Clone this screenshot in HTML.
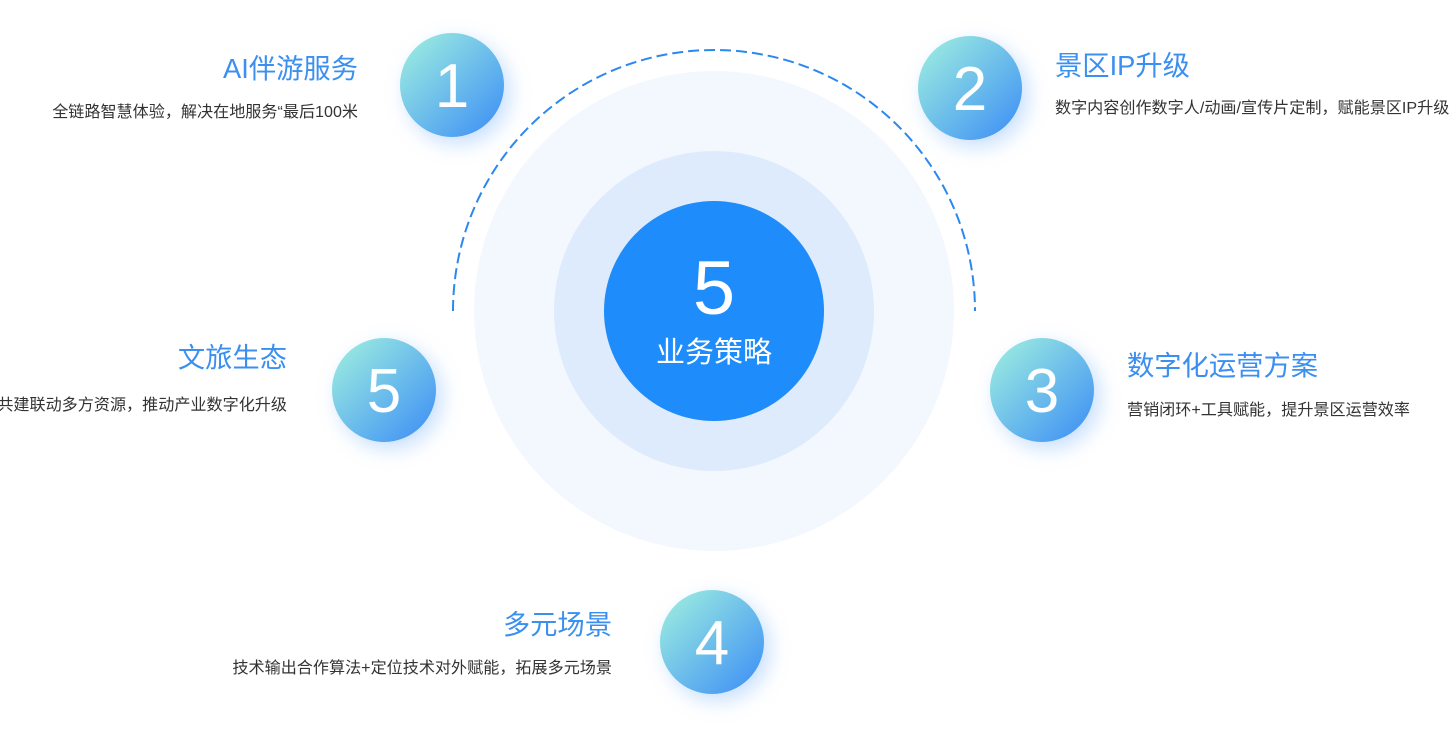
<!DOCTYPE html>
<html><head><meta charset="utf-8"><style>
html,body{margin:0;padding:0;background:#fff;width:1454px;height:751px;overflow:hidden}
svg text{font-family:"Liberation Sans","Noto Sans CJK SC",sans-serif}
.t{fill:#3a8ff0;font-size:27.3px}
.d{fill:#333;font-size:16.1px}
.n{fill:#fff;font-size:62px;font-weight:300}
</style></head><body>
<svg width="1454" height="751" viewBox="0 0 1454 751">
<defs>
<linearGradient id="g" x1="0" y1="0" x2="1" y2="1">
<stop offset="0" stop-color="#a2f2df"/><stop offset="1" stop-color="#3a8cf6"/>
</linearGradient>
<filter id="sh" x="-50%" y="-50%" width="200%" height="200%"><feGaussianBlur stdDeviation="10"/></filter>
</defs>
<circle cx="714" cy="311" r="240" fill="#f3f7fe"/>
<circle cx="714" cy="311" r="160" fill="#deebfc"/>
<circle cx="714" cy="311" r="110" fill="#1e8cfa"/>
<path d="M453 311 A261 261 0 0 1 975 311" fill="none" stroke="#2b88f0" stroke-width="2" stroke-dasharray="11 5"/>
<text x="714" y="314" text-anchor="middle" fill="#fff" font-size="76" font-weight="300">5</text>
<text x="714" y="362" text-anchor="middle" fill="#fff" font-size="29">业务策略</text>
<g>
<circle cx="458" cy="92" r="52" fill="#8fc0fb" opacity=".5" filter="url(#sh)"/>
<circle cx="452" cy="85" r="52" fill="url(#g)"/>
<text class="n" x="452" y="107" text-anchor="middle">1</text>
<circle cx="976" cy="95" r="52" fill="#8fc0fb" opacity=".5" filter="url(#sh)"/>
<circle cx="970" cy="88" r="52" fill="url(#g)"/>
<text class="n" x="970" y="110" text-anchor="middle">2</text>
<circle cx="390" cy="397" r="52" fill="#8fc0fb" opacity=".5" filter="url(#sh)"/>
<circle cx="384" cy="390" r="52" fill="url(#g)"/>
<text class="n" x="384" y="412" text-anchor="middle">5</text>
<circle cx="1048" cy="397" r="52" fill="#8fc0fb" opacity=".5" filter="url(#sh)"/>
<circle cx="1042" cy="390" r="52" fill="url(#g)"/>
<text class="n" x="1042" y="412" text-anchor="middle">3</text>
<circle cx="718" cy="649" r="52" fill="#8fc0fb" opacity=".5" filter="url(#sh)"/>
<circle cx="712" cy="642" r="52" fill="url(#g)"/>
<text class="n" x="712" y="664" text-anchor="middle">4</text>
</g>
<text class="t" x="358" y="78" text-anchor="end">AI伴游服务</text>
<text class="d" x="358" y="117" text-anchor="end">全链路智慧体验，解决在地服务“最后100米</text>
<text class="t" x="1055" y="75">景区IP升级</text>
<text class="d" x="1055" y="113">数字内容创作数字人/动画/宣传片定制，赋能景区IP升级</text>
<text class="t" x="287" y="367" text-anchor="end">文旅生态</text>
<text class="d" x="287" y="410" text-anchor="end">共建联动多方资源，推动产业数字化升级</text>
<text class="t" x="1127" y="375">数字化运营方案</text>
<text class="d" x="1127" y="415">营销闭环+工具赋能，提升景区运营效率</text>
<text class="t" x="612" y="634" text-anchor="end">多元场景</text>
<text class="d" x="612" y="673" text-anchor="end">技术输出合作算法+定位技术对外赋能，拓展多元场景</text>
</svg>
</body></html>
